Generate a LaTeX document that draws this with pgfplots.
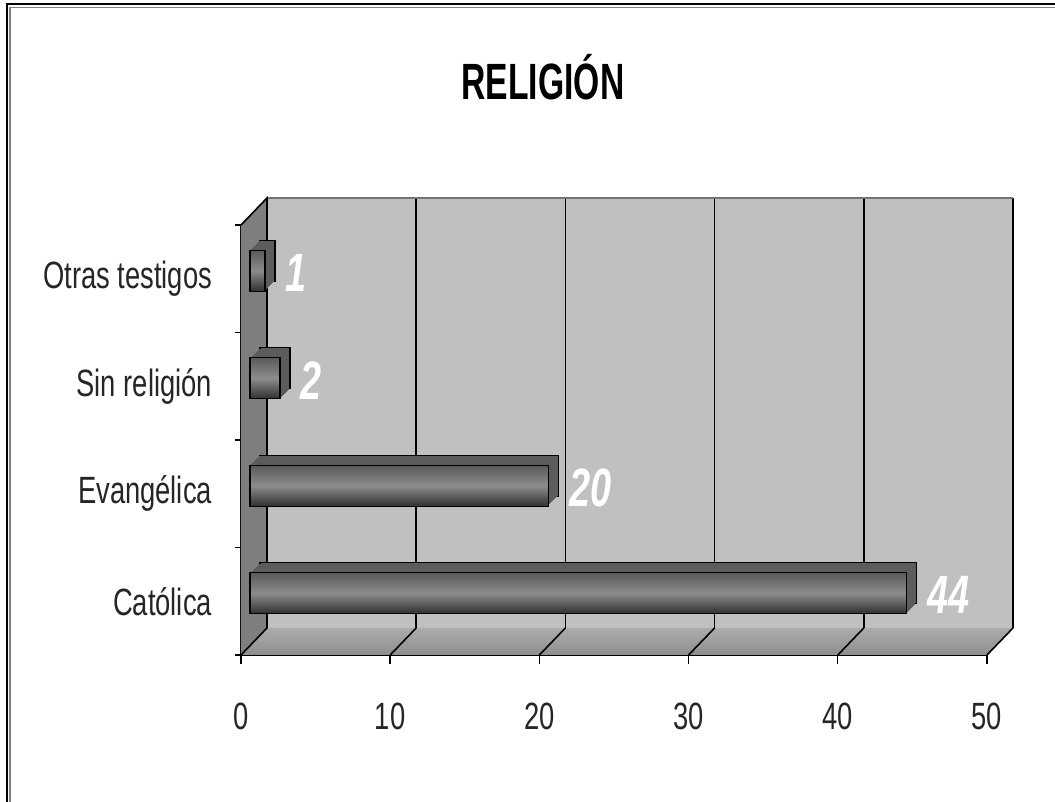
\documentclass[border=0pt]{standalone}
\usepackage{fontspec}
\setmainfont{Liberation Sans}[FakeStretch=0.72]
\newfontfamily\titlefont{Liberation Sans}[FakeStretch=0.66]
\newfontfamily\valfont{Liberation Sans}[FakeStretch=0.7]
\usepackage{pgfplots}
\pgfplotsset{compat=1.18}
\definecolor{wallback}{HTML}{C0C0C0}
\definecolor{wallside}{HTML}{7E7E7E}
\definecolor{floortop}{HTML}{ACACAC}
\definecolor{floorbot}{HTML}{8E8E8E}
\definecolor{barside}{HTML}{5C5C5C}
\definecolor{bartop}{HTML}{5A5A5A}
\definecolor{barmid}{HTML}{8C8C8C}
\definecolor{barbot}{HTML}{303030}
\newcommand\threedbar[2]{%
  \addplot[xbar, bar width=20.5pt, bar shift=0pt, draw=black, line width=0.7pt,
    fill=barside, xshift=9.5pt, yshift=9pt] coordinates {(#1,#2)};
  \pgfplotsinvokeforeach{9,8.5,...,5}{%
    \addplot[xbar, bar width=20.5pt, bar shift=0pt, draw=none,
      fill=barside, xshift=##1pt, yshift={##1pt-0.5pt}] coordinates {(#1,#2)};
  }%
  \addplot[xbar, bar width=20.5pt, bar shift=0pt, draw=black, line width=0.7pt,
    top color=bartop, bottom color=barbot, middle color=barmid,
    xshift=4.5pt, yshift=4pt,
    point meta=x, nodes near coords,
    nodes near coords style={anchor=west, inner sep=0pt, xshift=10pt, yshift=-1pt, text=white,
      font=\valfont\bfseries\itshape\fontsize{27}{32}\selectfont}] coordinates {(#1,#2)};
}
\begin{document}
\begin{tikzpicture}
\useasboundingbox (-120.5pt,-73.5pt) rectangle (407pt,327.5pt);
\fill[white] (-120.5pt,-73.5pt) rectangle (407pt,327.5pt);
\draw[line width=1pt] (-117pt,-90pt) -- (-117pt,325.5pt) -- (420pt,325.5pt);
\draw[line width=0.8pt, gray] (-115.6pt,-90pt) -- (-115.6pt,323.8pt) -- (420pt,323.8pt);
\node[font=\titlefont\bfseries\fontsize{25.5}{30}\selectfont] at (151pt,289pt) {RELIGIÓN};
\begin{axis}[
  at={(0pt,0pt)}, anchor=south west,
  width=373pt, height=215pt, scale only axis,
  xmin=0, xmax=50, ymin=0, ymax=4, clip=false,
  axis x line*=bottom, axis y line*=left,
  axis line style={black, line width=0.7pt},
  xtick={0,10,...,50},
  ytick={0.5,1.5,2.5,3.5},
  yticklabels={Católica,Evangélica,Sin religión,Otras testigos},
  minor ytick={0,1,2,3,4},
  major y tick style={draw=none},
  tick align=outside,
  major tick length=4.5pt, minor tick length=3pt,
  tick style={black, line width=0.7pt},
  /pgf/number format/assume math mode=true,
  tick label style={font=\fontsize{19}{23}\selectfont, text=black!85},
  xticklabel style={yshift=-16pt},
  yticklabel style={xshift=-6.5pt},
]
% back wall
\fill[wallback] ([xshift=13pt,yshift=13.5pt]axis cs:0,0) rectangle ([xshift=13pt,yshift=13.5pt]axis cs:50,4);
% floor
\shade[top color=floortop, bottom color=floorbot] (axis cs:0,0) -- (axis cs:50,0) -- ([xshift=13pt,yshift=13.5pt]axis cs:50,0) -- ([xshift=13pt,yshift=13.5pt]axis cs:0,0) -- cycle;
% side wall
\fill[wallside] (axis cs:0,0) -- ([xshift=13pt,yshift=13.5pt]axis cs:0,0) -- ([xshift=13pt,yshift=13.5pt]axis cs:0,4) -- (axis cs:0,4) -- cycle;
% grid lines on the back wall and floor
\pgfplotsinvokeforeach{10,20,30,40}{
  \draw[black, line width=0.8pt] ([xshift=13pt,yshift=13.5pt]axis cs:#1,0) -- ([xshift=13pt,yshift=13.5pt]axis cs:#1,4);
}
\pgfplotsinvokeforeach{10,20,30,40,50}{
  \draw[black, line width=0.8pt] (axis cs:#1,0) -- ([xshift=13pt,yshift=13.5pt]axis cs:#1,0);
}
\draw[black, line width=0.8pt] ([xshift=13pt,yshift=13.5pt]axis cs:50,0) -- ([xshift=13pt,yshift=13.5pt]axis cs:50,4);
\draw[black!55, line width=0.8pt] ([xshift=13pt,yshift=13.5pt]axis cs:0,4) -- ([xshift=13pt,yshift=13.5pt]axis cs:50,4);
\draw[black, line width=0.8pt] (axis cs:0,0) -- ([xshift=13pt,yshift=13.5pt]axis cs:0,0) -- ([xshift=13pt,yshift=13.5pt]axis cs:0,4) -- (axis cs:0,4);
% bars
\threedbar{44}{0.5}
\threedbar{20}{1.5}
\threedbar{2}{2.5}
\threedbar{1}{3.5}
\end{axis}
\end{tikzpicture}
\end{document}
